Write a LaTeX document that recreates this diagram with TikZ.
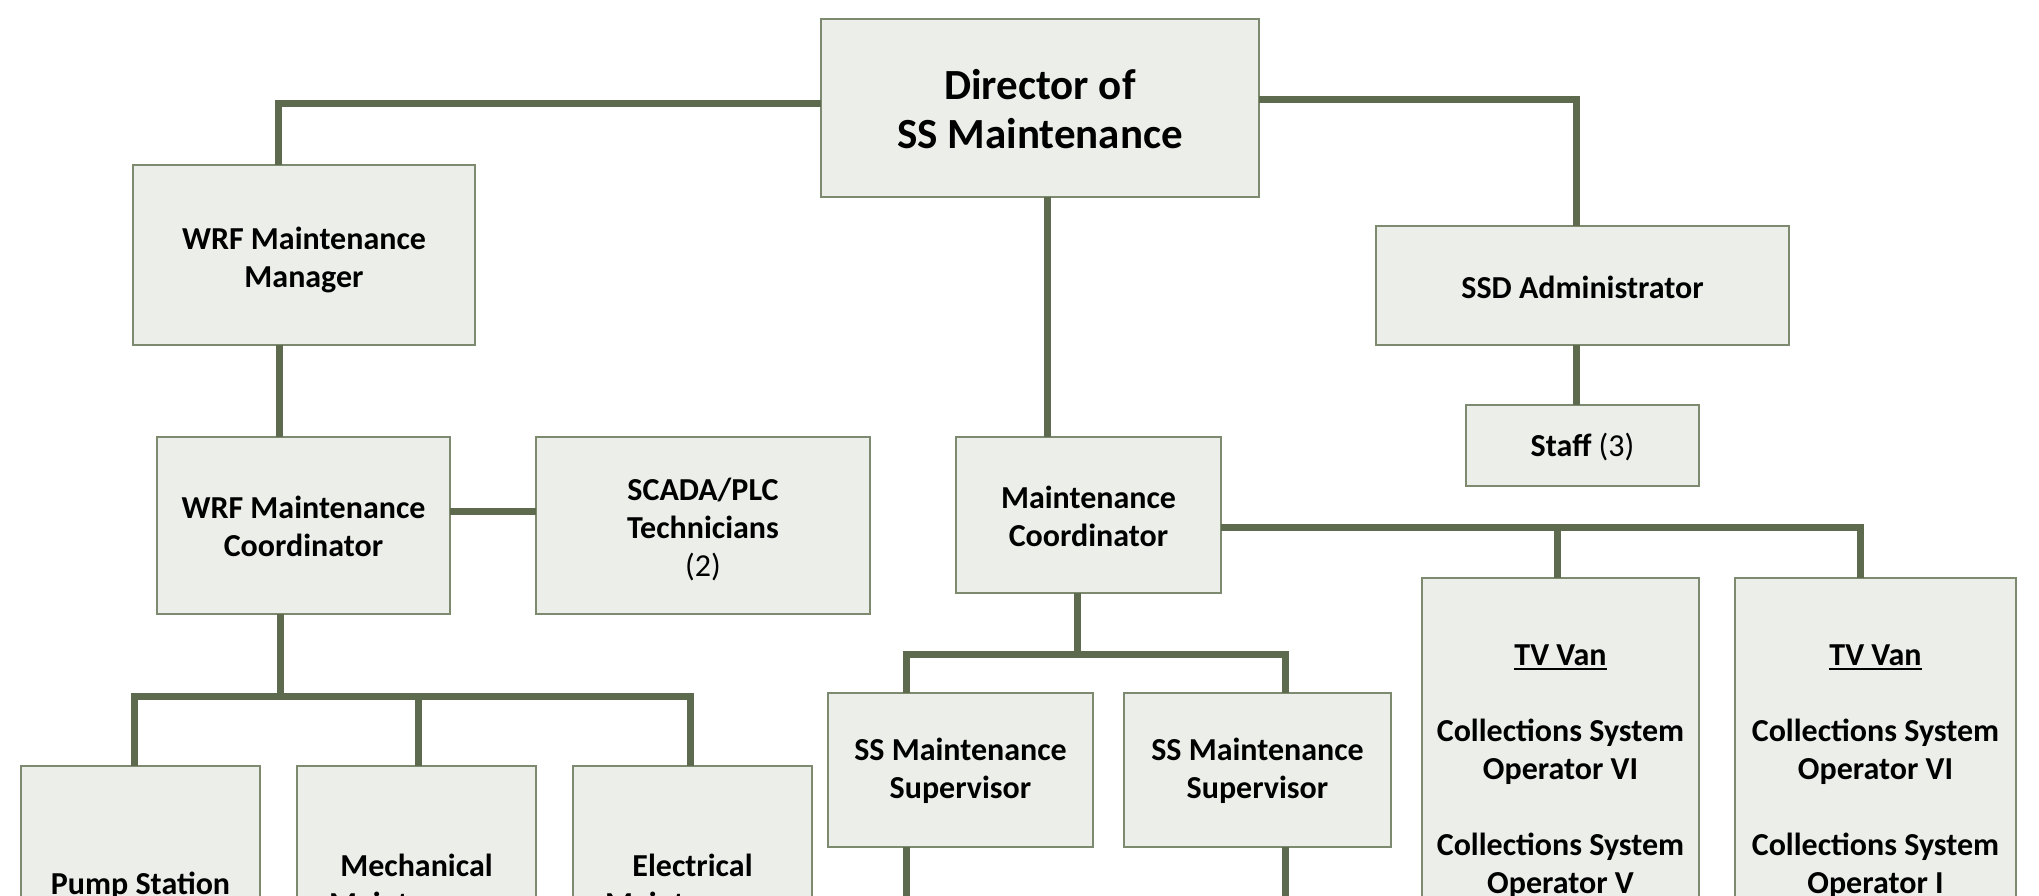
\documentclass[tikz,border=0pt]{standalone}
\usepackage{fontspec}
\setmainfont{Carlito}
\usetikzlibrary{calc}
\definecolor{boxfill}{HTML}{ECEFE9}
\definecolor{boxline}{HTML}{7E8A70}
\definecolor{connline}{HTML}{5E6A4E}
\newcommand\myul[1]{\setbox0\hbox{#1}\rlap{\rule[-5pt]{\wd0}{2.5pt}}\box0}
\tikzset{
  orgbox/.style={draw=boxline, fill=boxfill, line width=2.5pt, rectangle, inner sep=0pt, outer sep=0pt},
  txt/.style={align=center, inner sep=0pt, font=\bfseries\fontsize{32}{38}\selectfont},
  bigtxt/.style={align=center, inner sep=0pt, font=\bfseries\fontsize{43}{49}\selectfont},
  conn/.style={draw=connline, line width=7pt, line join=miter}
}
\begin{document}
\begin{tikzpicture}[x=1pt, y=-1pt]
\useasboundingbox (0,0) rectangle (2039,896);
\clip (0,0) rectangle (2039,896);
\fill[white] (0,0) rectangle (2039,896);

\coordinate (lbranch) at (280,696);
\coordinate (cbranch) at (1077,654);
\coordinate (s1end) at (906,910);
\coordinate (s2end) at (1285,910);

% boxes
\node[orgbox, minimum width=438, minimum height=178] (dir) at (1040,108) {};
\node[orgbox, minimum width=342, minimum height=180] (mgr) at (304,255) {};
\node[orgbox, minimum width=293, minimum height=177] (wco) at (303.5,525.5) {};
\node[orgbox, minimum width=334, minimum height=177] (scada) at (703,525.5) {};
\node[orgbox, minimum width=413, minimum height=119] (ssd) at (1582.5,285.5) {};
\node[orgbox, minimum width=233, minimum height=81] (staff) at (1582.5,445.5) {};
\node[orgbox, minimum width=265, minimum height=156] (mc) at (1088.5,515) {};
\node[orgbox, minimum width=265, minimum height=154] (sup1) at (960.5,770) {};
\node[orgbox, minimum width=267, minimum height=154] (sup2) at (1257.5,770) {};
\node[orgbox, minimum width=277, minimum height=352] (tv1) at (1560.5,754) {};
\node[orgbox, minimum width=281, minimum height=352] (tv2) at (1875.5,754) {};
\node[orgbox, minimum width=239, minimum height=164] (pump) at (140.5,848) {};
\node[orgbox, minimum width=239, minimum height=164] (mech) at (416.5,848) {};
\node[orgbox, minimum width=239, minimum height=164] (elec) at (692.5,848) {};

% connectors
\draw[conn] (dir.west |- 0,104) -| (mgr.north -| 278,0);
\draw[conn] (dir.east |- 0,100) -| (ssd.north -| 1576,0);
\draw[conn] (dir.south -| 1047,0) -- (mc.north -| 1047,0);
\draw[conn] (mgr.south -| 279,0) -- (wco.north -| 279,0);
\draw[conn] (wco.east |- 0,511) -- (scada.west |- 0,511);
\draw[conn] (ssd.south -| 1576,0) -- (staff.north -| 1576,0);
\draw[conn] (wco.south -| 280,0) -- (lbranch);
\draw[conn] (pump.north -| 134,0) -- (134,696) -- (690,696) -- (elec.north -| 690,0);
\draw[conn] (mech.north -| 418,0) -- (418,696);
\draw[conn] (mc.east |- 0,527) -| (tv2.north -| 1860,0);
\draw[conn] (tv1.north -| 1557,0) -- (1557,527);
\draw[conn] (mc.south -| 1077,0) -- (cbranch);
\draw[conn] (sup1.north -| 906,0) -- (906,654) -- (1285,654) -- (sup2.north -| 1285,0);
\draw[conn] (sup1.south -| 906,0) -- (s1end);
\draw[conn] (sup2.south -| 1285,0) -- (s2end);

% texts
\node[bigtxt] (tdir) at ($(dir.center)+(0,1)$) {Director of\\SS Maintenance};
\node[txt] (tmgr) at ($(mgr.center)+(0,5)$) {WRF Maintenance\\Manager};
\node[txt] (twco) at ($(wco.center)+(0,1)$) {WRF Maintenance\\Coordinator};
\node[txt] (tscada) at ($(scada.center)+(0,4)$) {SCADA/PLC\\Technicians\\{\mdseries(2)}};
\node[txt] (tssd) at ($(ssd.center)+(0,2)$) {SSD Administrator};
\node[txt] (tstaff) at ($(staff.center)+(0,2)$) {Staff {\mdseries(3)}};
\node[txt] (tmc) at ($(mc.center)+(0,1)$) {Maintenance\\Coordinator};
\node[txt] (tsup1) at ($(sup1.center)+(0,1)$) {SS Maintenance\\Supervisor};
\node[txt] (tsup2) at ($(sup2.center)+(0,1)$) {SS Maintenance\\Supervisor};
\node[txt, anchor=base] (ttv1) at (tv1.north |- 0,893) {\myul{TV Van}\\[38pt]Collections System\\Operator VI\\[38pt]Collections System\\Operator V};
\node[txt, anchor=base] (ttv2) at (tv2.north |- 0,893) {\myul{TV Van}\\[38pt]Collections System\\Operator VI\\[38pt]Collections System\\Operator I};
\node[txt, anchor=base] (tpump) at (pump.north |- 0,894) {Pump Station};
\node[txt, anchor=base] (tmech) at (mech.north |- 0,914) {Mechanical\\Maintenance};
\node[txt, anchor=base] (telec) at (elec.north |- 0,914) {Electrical\\Maintenance};
\end{tikzpicture}
\end{document}
